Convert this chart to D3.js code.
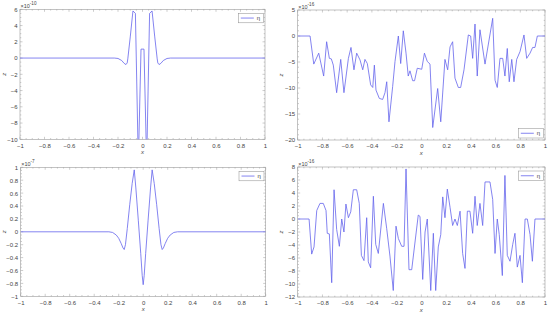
<!DOCTYPE html>
<html>
<head>
<meta charset="utf-8">
<script src="https://cdn.jsdelivr.net/npm/d3@7"></script>
<style>
  body { margin: 0; background: #fff; }
  text { font-family: "Liberation Sans", Arial, sans-serif; fill: #444; }
</style>
</head>
<body>
<script>
/*global d3*/

var width = 550, height = 314;

// x ticks shared by every panel
var xTicks = [-1, -0.8, -0.6, -0.4, -0.2, 0, 0.2, 0.4, 0.6, 0.8, 1];

// top left, z in units of 1e-10
var xA = [-1, -0.23, -0.2, -0.17, -0.15, -0.135, -0.125, -0.12, -0.1, -0.078, -0.058, -0.034, -0.012,
          0.012, 0.034, 0.058, 0.078, 0.1, 0.12, 0.125, 0.135, 0.15, 0.17, 0.2, 0.23, 1];
var zA = [0, 0, -0.05, -0.3, -0.65, -0.8, -0.6, -0.1, 2.6, 5.8, 5.5, -13, 1.1,
          1.1, -13, 5.5, 5.8, 2.6, -0.1, -0.6, -0.8, -0.65, -0.3, -0.05, 0, 0];
var yTicksA = [-10, -8, -6, -4, -2, 0, 2, 4, 6];

// top right, z in units of 1e-16
var xB = [-1, -0.9, -0.87, -0.83, -0.79, -0.766, -0.744, -0.728, -0.712, -0.685, -0.652, -0.626, -0.59, -0.569,
          -0.545, -0.523, -0.496, -0.474, -0.456, -0.437, -0.41, -0.393, -0.38, -0.367, -0.34, -0.313, -0.294,
          -0.28, -0.262, -0.232, -0.213, -0.186, -0.167, -0.146, -0.124, -0.106, -0.092, -0.07, -0.055, -0.033,
          0.003, 0.025, 0.048, 0.07, 0.092, 0.132, 0.157, 0.191, 0.213, 0.232, 0.253, 0.272, 0.299, 0.318, 0.345,
          0.38, 0.399, 0.415, 0.434, 0.452, 0.474, 0.515, 0.577, 0.596, 0.614, 0.636, 0.658, 0.676, 0.695, 0.711,
          0.731, 0.749, 0.771, 0.798, 0.83, 0.852, 0.879, 0.9, 0.919, 0.938, 1];
var zB = [0, 0, -5.4, -3.3, -7.7, -1.1, -4.3, -4.4, -5.6, -10.9, -4.5, -10.9, -4.3, -2.2,
          -6.5, -3.3, -4.6, -6.5, -4.5, -5.3, -9.4, -9.9, -5.6, -10.4, -12, -12.2, -10.9,
          -8.8, -16.5, -9.7, -4.9, 0, -5.3, 1, -3.3, -7.7, -6.7, -8.6, -8.6, -6.2,
          -6.4, -3.3, -4.9, -5.4, -17.6, -10.1, -16.5, -4.5, -6.5, -2.1, -1.1, -8.1, -9.9, -9.9, -6.5,
          0.2, 0, -4.3, 2.3, -7.7, 1.2, -5.4, 3.4, -8.5, -9.9, -4.3, -4.3, -7.7, -2.4, -8.8,
          -4.5, -8.8, -4.5, -3, 0.2, -4.3, -3.3, -2.2, -2.2, 0, 0];
var yTicksB = [-20, -15, -10, -5, 0, 5];

// bottom left, z in units of 1e-7
var xC = [-1, -0.28, -0.25, -0.22, -0.2, -0.18, -0.165, -0.155, -0.145, -0.13, -0.11, -0.09, -0.073, -0.06,
          -0.04, -0.02, -0.008, 0, 0.008, 0.02, 0.04, 0.06, 0.073, 0.09, 0.11, 0.13, 0.145, 0.155, 0.165,
          0.18, 0.2, 0.22, 0.25, 0.28, 1];
var zC = [0, 0, -0.01, -0.05, -0.1, -0.18, -0.25, -0.275, -0.2, 0.05, 0.42, 0.75, 0.96, 0.68,
          0.18, -0.34, -0.68, -0.82, -0.68, -0.34, 0.18, 0.68, 0.96, 0.75, 0.42, 0.05, -0.2, -0.275, -0.25,
          -0.18, -0.1, -0.05, -0.01, 0, 0];
var yTicksC = [-1, -0.8, -0.6, -0.4, -0.2, 0, 0.2, 0.4, 0.6, 0.8, 1];

// bottom right, z in units of 1e-16
var xD = [-1, -0.908, -0.887, -0.868, -0.846, -0.82, -0.793, -0.771, -0.761, -0.744, -0.725, -0.706, -0.685,
          -0.663, -0.644, -0.626, -0.61, -0.59, -0.571, -0.55, -0.523, -0.502, -0.485, -0.464, -0.442, -0.429,
          -0.41, -0.388, -0.369, -0.348, -0.307, -0.28, -0.254, -0.227, -0.205, -0.186, -0.159, -0.14, -0.124,
          -0.1, -0.078, -0.025, -0.011, 0.011, 0.03, 0.048, 0.076, 0.097, 0.116, 0.137, 0.157, 0.173, 0.191,
          0.21, 0.232, 0.253, 0.272, 0.291, 0.313, 0.334, 0.353, 0.372, 0.393, 0.415, 0.434, 0.452, 0.474,
          0.496, 0.515, 0.555, 0.577, 0.596, 0.614, 0.63, 0.655, 0.676, 0.695, 0.717, 0.739, 0.757, 0.776,
          0.798, 0.817, 0.839, 0.857, 0.879, 0.898, 0.919, 1];
var zD = [0, 0, -5.4, -4.3, 1.3, 2.4, 2.4, 1.3, -2.2, -2.3, -9.8, 4.5, -1.6,
          -4.2, 0, -2, 2.3, 0.2, 1.1, 4.5, 4.5, 2.4, -5.6, -6.4, 0.2, -6.6,
          -7.5, 3.5, -3.9, -5.3, 2.4, -1.5, -5.7, -11, -1.1, -3, -4.2, -4.2, 7.7,
          -7.8, -7.8, 0.6, 0.4, -9.3, -2, 0, -11, -2.2, -11, -4.3, -2.4, 3.4, 0.2,
          4.6, 1.8, -1, 0, -1, 1.2, -5.3, -7.6, 1.2, 1.2, -2.2, 3.5, -1, 2.4,
          -1, 5.7, 5.7, 3, -5.3, 0, -2.4, -8.7, 6.7, -5.6, -6.5, -3.9, -2.2, -7.4,
          -5.6, -9.8, 0, 0, -2.4, -6.5, 0, 0];
var yTicksD = [-12, -10, -8, -6, -4, -2, 0, 2, 4, 6, 8];

var lineColor = "#6464ec";
var axisColor = "#9a9a9a";

var svg = d3.select("body").append("svg")
    .attr("width", width)
    .attr("height", height);

var panels = [
  { id: "a", xs: xA, zs: zA, yTicks: yTicksA, minorY: 0.5, exp: "-10", legend: "top",
    left: 20, top: 9.3, w: 245, h: 130 },
  { id: "b", xs: xB, zs: zB, yTicks: yTicksB, minorY: 1, exp: "-16", legend: "bottom",
    left: 297.7, top: 10, w: 247.3, h: 130 },
  { id: "c", xs: xC, zs: zC, yTicks: yTicksC, minorY: 0.05, exp: "-7", legend: "top",
    left: 20.7, top: 167.3, w: 245, h: 129 },
  { id: "d", xs: xD, zs: zD, yTicks: yTicksD, minorY: 0.5, exp: "-16", legend: "top",
    left: 297.7, top: 167, w: 247.3, h: 130 }
];

panels.forEach(drawPanel);

function drawPanel(p) {
  var yMin = p.yTicks[0], yMax = p.yTicks[p.yTicks.length - 1];
  var x = d3.scaleLinear().domain([-1, 1]).range([0, p.w]);
  var y = d3.scaleLinear().domain([yMin, yMax]).range([p.h, 0]);

  var g = svg.append("g").attr("transform", "translate(" + p.left + "," + p.top + ")");

  g.append("clipPath").attr("id", "clip-" + p.id)
    .append("rect").attr("width", p.w).attr("height", p.h);

  // minor ticks on all sides, pointing inwards
  var minorX = d3.range(-1, 1.0001, 0.05);
  var minorYs = d3.range(yMin, yMax + 1e-9, p.minorY);
  var tk = g.append("g").attr("stroke", axisColor).attr("stroke-width", 0.5);
  minorX.forEach(function (v) {
    var len = Math.abs(v * 5 - Math.round(v * 5)) < 1e-6 ? 2.5 : 1.3;
    tk.append("line").attr("x1", x(v)).attr("x2", x(v)).attr("y1", p.h).attr("y2", p.h - len);
    tk.append("line").attr("x1", x(v)).attr("x2", x(v)).attr("y1", 0).attr("y2", len);
  });
  minorYs.forEach(function (v) {
    var major = p.yTicks.some(function (t) { return Math.abs(t - v) < 1e-9; });
    var len = major ? 2.5 : 1.3;
    tk.append("line").attr("x1", 0).attr("x2", len).attr("y1", y(v)).attr("y2", y(v));
    tk.append("line").attr("x1", p.w).attr("x2", p.w - len).attr("y1", y(v)).attr("y2", y(v));
  });

  // axes (labels only, ticks drawn above)
  var xAxis = g.append("g").attr("transform", "translate(0," + p.h + ")")
    .call(d3.axisBottom(x).tickValues(xTicks).tickSize(0).tickPadding(4).tickFormat(d3.format("")));
  var yAxis = g.append("g")
    .call(d3.axisLeft(y).tickValues(p.yTicks).tickSize(0).tickPadding(2.5).tickFormat(d3.format("")));
  [xAxis, yAxis].forEach(function (a) {
    a.select(".domain").remove();
    a.selectAll("text").attr("font-size", 6).attr("fill", "#444")
      .attr("font-family", "Liberation Sans, Arial, sans-serif");
  });

  // box
  g.append("rect").attr("width", p.w).attr("height", p.h)
    .attr("fill", "none").attr("stroke", axisColor).attr("stroke-width", 0.6);

  // data
  var pts = p.xs.map(function (v, i) { return [v, p.zs[i]]; });
  g.append("path")
    .datum(pts)
    .attr("clip-path", "url(#clip-" + p.id + ")")
    .attr("fill", "none")
    .attr("stroke", lineColor)
    .attr("stroke-width", 0.8)
    .attr("stroke-linejoin", "round")
    .attr("d", d3.line().x(function (d) { return x(d[0]); }).y(function (d) { return y(d[1]); }));

  // exponent
  var ex = g.append("text").attr("x", 0.5).attr("y", -1.5).attr("font-size", 5.5);
  ex.append("tspan").text("\u00d710");
  ex.append("tspan").attr("font-size", 4.6).attr("dy", -2.5).text(p.exp);

  // axis titles
  g.append("text").attr("x", p.w / 2).attr("y", p.h + 14.5)
    .attr("text-anchor", "middle").attr("font-size", 6).attr("font-style", "italic").text("x");
  g.append("text").attr("transform", "translate(" + (-14.5) + "," + (p.h / 2) + ") rotate(-90)")
    .attr("text-anchor", "middle").attr("font-size", 6).attr("font-style", "italic").text("z");

  // legend
  var lw = 25, lh = 9.5;
  var lx = p.w - lw - 1.7;
  var ly = p.legend === "top" ? 4 : p.h - lh - 2;
  var lg = g.append("g").attr("transform", "translate(" + lx + "," + ly + ")");
  lg.append("rect").attr("width", lw).attr("height", lh)
    .attr("fill", "#fff").attr("stroke", "#8a8a8a").attr("stroke-width", 0.5);
  lg.append("line").attr("x1", 2.5).attr("x2", 15.5).attr("y1", lh / 2).attr("y2", lh / 2)
    .attr("stroke", lineColor).attr("stroke-width", 0.8);
  lg.append("text").attr("x", 18.5).attr("y", lh / 2 + 2).attr("font-size", 6).text("\u03b7");
}
</script>
</body>
</html>
